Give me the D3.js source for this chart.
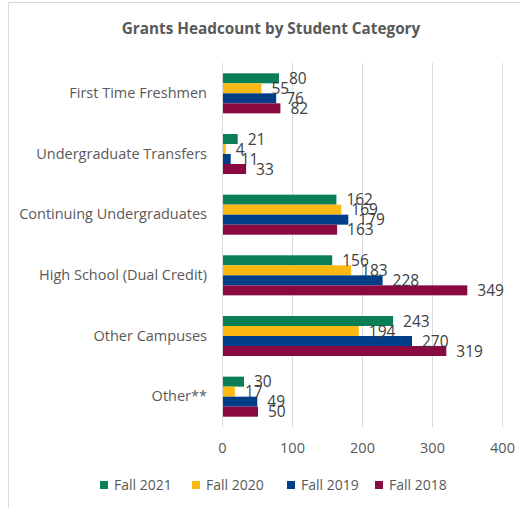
<!DOCTYPE html>
<html><head><meta charset="utf-8">
<script src="https://cdn.jsdelivr.net/npm/d3@7"></script>
<style>body{margin:0;background:#fff;} svg{display:block;}</style>
</head><body><svg id="c" width="520" height="508"></svg>
<script>
const categories = ["First Time Freshmen","Undergraduate Transfers","Continuing Undergraduates","High School (Dual Credit)","Other Campuses","Other**"];
const seriesNames = ["Fall 2021","Fall 2020","Fall 2019","Fall 2018"];
const fall2021 = [80,21,162,156,243,30];
const fall2020 = [55,4,169,183,194,17];
const fall2019 = [76,11,179,228,270,49];
const fall2018 = [82,33,163,349,319,50];
const seriesValues = [fall2021,fall2020,fall2019,fall2018];
const colors = ["#0a7f55","#fdb913","#003f87","#880a40"];
const xTicks = [0,100,200,300,400];

const svg = d3.select("#c");
const font = "'Open Sans', sans-serif";
// border
svg.append("path").attr("d","M8.5,515 V2.5 H520").attr("fill","none").attr("stroke","#d9d9d9");

svg.append("text").attr("x",271).attr("y",34).attr("text-anchor","middle")
  .attr("font-family",font).attr("font-weight","bold").attr("font-size",15.3).attr("fill","#595959")
  .text("Grants Headcount by Student Category");

const x = d3.scaleLinear().domain([0,400]).range([222,502]);
const y = d3.scaleBand().domain(categories).range([63,427]).paddingInner(0.34).paddingOuter(0.17);
const ySub = d3.scaleBand().domain(seriesNames).range([0,y.bandwidth()]);

// gridlines
svg.append("g").selectAll("line").data(xTicks).join("line")
  .attr("x1",d=>x(d)+0.5).attr("x2",d=>x(d)+0.5).attr("y1",63).attr("y2",427)
  .attr("stroke","#d9d9d9");

// x axis labels
const xa = svg.append("g").attr("transform","translate(0,427)")
  .call(d3.axisBottom(x).tickValues(xTicks).tickSize(0).tickPadding(16));
xa.select(".domain").remove();
xa.selectAll("text").attr("font-family",font).attr("font-size",14.5).attr("fill","#595959");

// y axis labels
const ya = svg.append("g").attr("transform","translate(207,0)")
  .call(d3.axisLeft(y).tickSize(0).tickPadding(0));
ya.select(".domain").remove();
ya.selectAll("text").attr("font-family",font).attr("font-size",14.5).attr("fill","#595959");

// bars
seriesNames.forEach((s,si)=>{
  const g = svg.append("g");
  g.selectAll("rect").data(seriesValues[si]).join("rect")
    .attr("x",x(0)+1).attr("y",(d,i)=>y(categories[i])+ySub(s))
    .attr("width",d=>x(d)-x(0)).attr("height",ySub.bandwidth())
    .attr("fill",colors[si]);
});
seriesNames.forEach((s,si)=>{
  svg.append("g").selectAll("text").data(seriesValues[si]).join("text")
    .attr("x",d=>x(d)+11).attr("y",(d,i)=>y(categories[i])+ySub(s)+ySub.bandwidth()/2)
    .attr("dy","0.36em")
    .attr("font-family",font).attr("font-size",15.5).attr("fill","#404040")
    .text(d=>d);
});

// legend
const legendX = [100,192,287,375];
const lg = svg.append("g");
seriesNames.forEach((s,i)=>{
  lg.append("rect").attr("x",legendX[i]).attr("y",481).attr("width",8).attr("height",8).attr("fill",colors[i]);
  lg.append("text").attr("x",legendX[i]+14).attr("y",485).attr("dy","0.36em")
    .attr("font-family",font).attr("font-size",14).attr("fill","#595959").text(s);
});
</script></body></html>
